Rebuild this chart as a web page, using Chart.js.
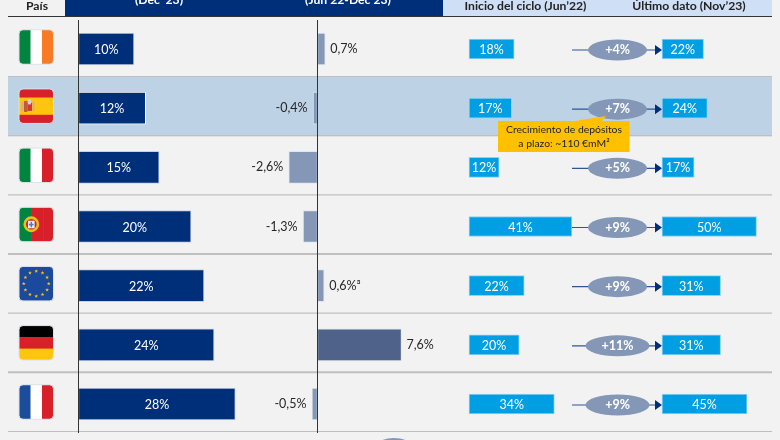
<!DOCTYPE html>
<html>
<head>
<meta charset="utf-8">
<style>
html, body { margin: 0; padding: 0; background: #f2f2f2; }
#wrap { width: 780px; height: 440px; }
</style>
<script src="https://cdn.jsdelivr.net/npm/chart.js@4"></script>
</head>
<body>
<div id="wrap"><canvas id="grafico" width="780" height="440"></canvas></div>
<script>
const paises = ['Irlanda', 'España', 'Italia', 'Portugal', 'Eurozona', 'Alemania', 'Francia'];
const peso = [9.9, 12, 14.4, 20.1, 22.4, 24.2, 28];
const pesoTxt = ['10%', '12%', '15%', '20%', '22%', '24%', '28%'];
const variacion = [0.7, -0.4, -2.6, -1.3, 0.6, 7.6, -0.5];
const variacionTxt = ['0,7%', '-0,4%', '-2,6%', '-1,3%', '0,6%³', '7,6%', '-0,5%'];
const inicio = [18, 17, 12, 41, 22, 20, 34];
const ultimo = [22, 24, 17, 50, 31, 31, 45];
const delta = ['+4%', '+7%', '+5%', '+9%', '+9%', '+11%', '+9%'];

const fuente = 'Lato, "Open Sans", sans-serif';
const azul = '#002f7a';
const celeste = '#009fe3';
const gris = '#8497b6';

function redondeado(c, x, y, w, h, r) {
  c.beginPath();
  c.roundRect(x, y, w, h, r);
}

function estrella(c, x, y, r, color) {
  c.fillStyle = color;
  c.beginPath();
  for (let i = 0; i < 10; i++) {
    let a = -Math.PI / 2 + i * Math.PI / 5;
    let rr = i % 2 ? r * 0.42 : r;
    c.lineTo(x + rr * Math.cos(a), y + rr * Math.sin(a));
  }
  c.closePath();
  c.fill();
}

// bandas de color de cada bandera, en filas o columnas
const banderas = [
  { dir: 'v', col: ['#00843f', '#ffffff', '#f97a24'] },
  { dir: 'h', col: ['#d7202a', '#ffc40c', '#ffc40c', '#d7202a'], t: [0, 0.25, 0.5, 0.75] },
  { dir: 'v', col: ['#00843f', '#ffffff', '#d7202a'] },
  { dir: 'v', col: ['#00843f', '#d7202a', '#d7202a'], t: [0, 0.36, 0.7] },
  { dir: 'h', col: ['#1b4a9c'] },
  { dir: 'h', col: ['#000000', '#d7202a', '#ffc40c'] },
  { dir: 'v', col: ['#1c4c9c', '#ffffff', '#d7202a'] }
];

function dibujaBandera(c, i, cy) {
  const x = 19, w = 34.5, h = 34.5, y = cy - h / 2;
  const b = banderas[i];
  c.save();
  redondeado(c, x, y, w, h, 4);
  c.clip();
  const n = b.col.length;
  b.col.forEach((color, k) => {
    c.fillStyle = color;
    const t0 = b.t ? b.t[k] : k / n;
    const t1 = b.t ? (k + 1 < n ? b.t[k + 1] : 1) : (k + 1) / n;
    if (b.dir === 'v') c.fillRect(x + t0 * w, y, (t1 - t0) * w + 0.5, h);
    else c.fillRect(x, y + t0 * h, w, (t1 - t0) * h + 0.5);
  });
  if (i === 1) {
    // escudo
    c.fillStyle = '#d9a98a';
    c.fillRect(x + 2.5, y + 13, 2, 9);
    c.fillRect(x + 13.5, y + 13, 2, 9);
    c.fillStyle = '#c25a32';
    c.fillRect(x + 5, y + 12, 3.5, 11);
    c.fillStyle = '#d0392f';
    c.fillRect(x + 8.5, y + 14, 4.5, 8);
    c.fillStyle = '#d8cfd0';
    c.fillRect(x + 9, y + 10.5, 3, 5);
  }
  if (i === 3) {
    c.fillStyle = '#d7202a';
    c.beginPath();
    c.arc(x + 12.3, y + 17, 6, 0, Math.PI * 2);
    c.fill();
    c.strokeStyle = '#e5c11c';
    c.lineWidth = 2.6;
    c.beginPath();
    c.arc(x + 12.3, y + 17, 6.6, 0, Math.PI * 2);
    c.stroke();
    c.fillStyle = '#f2f2f2';
    c.fillRect(x + 9, y + 13.5, 6.6, 7.5);
    c.fillStyle = '#5a78b8';
    c.fillRect(x + 11.5, y + 14.5, 1.6, 5.5);
    c.fillRect(x + 10, y + 16.5, 4.6, 1.6);
  }
  if (i === 4) {
    for (let k = 0; k < 12; k++) {
      const a = k * Math.PI / 6;
      estrella(c, x + w / 2 + 12.5 * Math.cos(a), y + h / 2 + 12.5 * Math.sin(a), 2, '#f4c20d');
    }
  }
  c.restore();
  c.strokeStyle = '#dbe2ec';
  c.lineWidth = 1;
  redondeado(c, x, y, w, h, 4);
  c.stroke();
}

const decoracion = {
  id: 'decoracion',
  beforeDatasetsDraw(chart) {
    const c = chart.ctx, y = chart.scales.y;
    const filaY = i => y.getPixelForValue(i);
    c.save();
    // fila resaltada de España
    c.fillStyle = '#bdd2e4';
    c.fillRect(8, filaY(1) - 32, 764, 60);
    // separadores
    c.strokeStyle = '#bfbfbf';
    paises.forEach((p, i) => {
      c.lineWidth = i === 3 || i === 5 ? 2 : 1.2;
      c.beginPath();
      c.moveTo(8, filaY(i) + 27.5);
      c.lineTo(772, filaY(i) + 27.5);
      c.stroke();
    });
    // cabecera
    c.fillStyle = azul;
    c.fillRect(65, 0, 378, 16);
    c.fillStyle = '#cfdff6';
    c.fillRect(443, 0, 329, 16);
    c.strokeStyle = '#333333';
    c.lineWidth = 1.2;
    c.beginPath();
    c.moveTo(8, 16.5);
    c.lineTo(772, 16.5);
    c.stroke();
    c.textAlign = 'center';
    c.textBaseline = 'middle';
    c.font = 'bold 12.2px ' + fuente;
    c.fillStyle = '#222222';
    c.fillText('País', 37, 6);
    c.fillText('Inicio del ciclo (Jun’22)', 525.5, 6);
    c.fillText('Último dato (Nov’23)', 689, 6);
    c.fillStyle = '#ffffff';
    c.fillText('(Dec’ 23)', 159, 0);
    c.fillText('(Jun 22-Dec 23)', 348, 0);
    // conectores
    paises.forEach((p, i) => {
      const cy = filaY(i) + 1;
      const x0 = 572, x1 = 655;
      c.strokeStyle = '#2f5597';
      c.lineWidth = 1.2;
      c.beginPath();
      c.moveTo(x0, cy);
      c.lineTo(x1, cy);
      c.stroke();
      c.fillStyle = '#002f7a';
      c.beginPath();
      c.moveTo(655, cy - 5);
      c.lineTo(662, cy);
      c.lineTo(655, cy + 5);
      c.closePath();
      c.fill();
    });
    // elipse parcial al pie
    c.fillStyle = gris;
    c.beginPath();
    c.ellipse(394, 449, 20, 11, 0, 0, Math.PI * 2);
    c.fill();
    c.restore();
  },
  afterDatasetsDraw(chart) {
    const c = chart.ctx, s = chart.scales;
    const filaY = i => s.y.getPixelForValue(i);
    c.save();
    // ejes verticales en el cero de cada escala
    c.strokeStyle = '#333333';
    c.lineWidth = 1;
    [s.xPeso, s.xVar].forEach(e => {
      const x = Math.floor(e.getPixelForValue(0)) + 0.5;
      c.beginPath();
      c.moveTo(x, 20);
      c.lineTo(x, 433);
      c.stroke();
    });
    paises.forEach((p, i) => {
      const cy = filaY(i);
      dibujaBandera(c, i, cy - 2);
      c.font = '12.5px ' + fuente;
      c.textBaseline = 'middle';
      // peso
      c.textAlign = 'center';
      c.fillStyle = '#ffffff';
      c.fillText(pesoTxt[i], (s.xPeso.getPixelForValue(0) + s.xPeso.getPixelForValue(peso[i])) / 2, cy + 1);
      // inicio y ultimo
      c.fillText(inicio[i] + '%', (s.xIni.getPixelForValue(0) + s.xIni.getPixelForValue(inicio[i])) / 2, cy + 1);
      c.fillText(ultimo[i] + '%', (s.xUlt.getPixelForValue(0) + s.xUlt.getPixelForValue(ultimo[i])) / 2, cy + 1);
      // variacion
      c.fillStyle = '#262626';
      const xv = s.xVar.getPixelForValue(variacion[i]);
      c.textAlign = variacion[i] < 0 ? 'right' : 'left';
      c.fillText(variacionTxt[i], xv + (variacion[i] < 0 ? -5.5 : 5), cy);
      // elipse con el incremento
      const grande = delta[i] === '+11%' || i === 6;
      c.fillStyle = gris;
      c.beginPath();
      c.ellipse(617.5, cy + 1, grande ? 32 : 29.5, 10.5, 0, 0, Math.PI * 2);
      c.fill();
      c.fillStyle = '#ffffff';
      c.textAlign = 'center';
      c.font = 'bold 12.5px ' + fuente;
      c.fillText(delta[i], 617.5, cy + 1);
    });
    // nota de depositos a plazo
    c.fillStyle = '#ffc000';
    c.beginPath();
    c.moveTo(498, 121);
    c.lineTo(575, 121);
    c.lineTo(606, 116);
    c.lineTo(602, 121);
    c.lineTo(629.5, 121);
    c.lineTo(629.5, 152);
    c.lineTo(498, 152);
    c.closePath();
    c.fill();
    c.fillStyle = '#222222';
    c.font = '10.4px ' + fuente;
    c.textAlign = 'center';
    c.fillText('Crecimiento de depósitos', 564, 130);
    c.fillText('a plazo: ~110 €mM²', 564, 143.5);
    c.restore();
  }
};

function barras(valores, eje, color, grosor, borde) {
  return {
    data: valores,
    xAxisID: eje,
    backgroundColor: color,
    borderColor: borde,
    borderWidth: 1,
    borderSkipped: false,
    barThickness: grosor,
    grouped: false
  };
}

function escala(min, max) {
  return { type: 'linear', display: false, min: min, max: max };
}

// cada escala situa su cero en la columna que le toca
const kPeso = 5.6, kVar = 11.05, kIni = 2.51, kUlt = 1.89;
const x0Peso = 78.5, x0Var = 317.5, x0Ini = 469, x0Ult = 662;

new Chart(document.getElementById('grafico').getContext('2d'), {
  type: 'bar',
  data: {
    labels: paises,
    datasets: [
      barras(peso, 'xPeso', azul, 32, paises.map(p => p === 'España' ? '#ffffff' : '#c6d3e6')),
      barras(variacion, 'xVar', variacion.map(v => v > 5 ? '#4f6289' : gris), 32, '#dfe6ef'),
      barras(inicio, 'xIni', celeste, 20, '#8fd3f2'),
      barras(ultimo, 'xUlt', celeste, 20, '#8fd3f2')
    ]
  },
  options: {
    indexAxis: 'y',
    responsive: false,
    animation: false,
    layout: { padding: { top: 19.4, bottom: 6.4, left: 0, right: 0 } },
    plugins: { legend: { display: false }, tooltip: { enabled: false } },
    scales: {
      y: { type: 'category', display: false },
      xPeso: escala(-x0Peso / kPeso, (780 - x0Peso) / kPeso),
      xVar: escala(-x0Var / kVar, (780 - x0Var) / kVar),
      xIni: escala(-x0Ini / kIni, (780 - x0Ini) / kIni),
      xUlt: escala(-x0Ult / kUlt, (780 - x0Ult) / kUlt)
    }
  },
  plugins: [decoracion]
});
</script>
</body>
</html>
